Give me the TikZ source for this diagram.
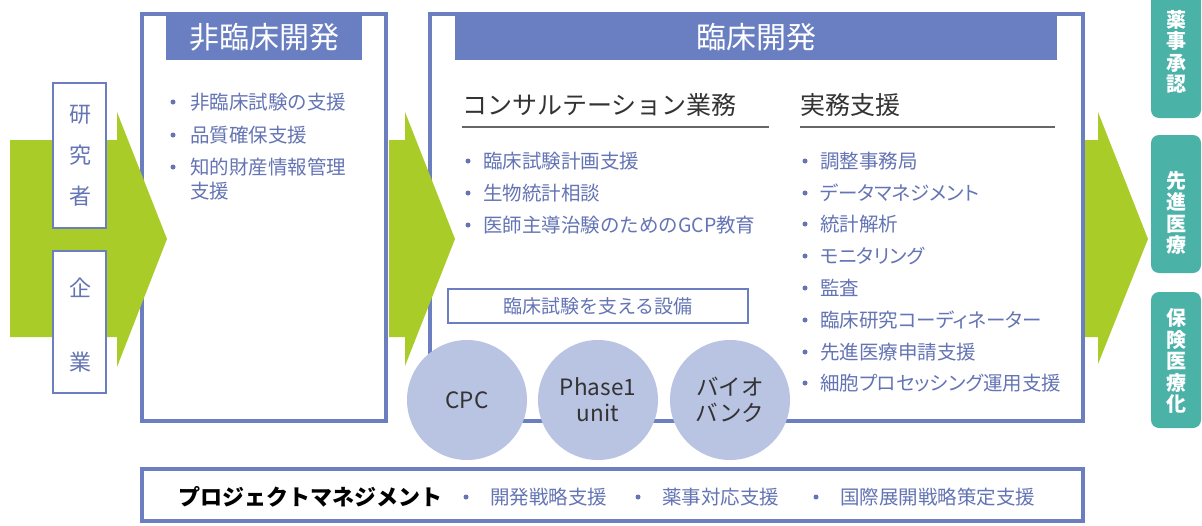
\documentclass[tikz,border=0pt]{standalone}
\usepackage{fontspec}
\setmainfont{Noto Sans CJK JP}
\newfontfamily\jpprop[RawFeature=+palt]{Noto Sans CJK JP}
\definecolor{grn}{HTML}{AACC28}
\definecolor{bbor}{HTML}{6A7EC0}
\definecolor{tbar}{HTML}{6A7FC2}
\definecolor{txtb}{HTML}{6474B4}
\definecolor{circf}{HTML}{B9C3E2}
\definecolor{tealc}{HTML}{4BB2A8}
\definecolor{dgray}{HTML}{333333}
\definecolor{ulgray}{HTML}{666666}
\tikzset{
  bigbox/.style={draw=bbor, line width=4pt, fill=white},
  titlebar/.style={fill=tbar},
  titletext/.style={text=white, font=\fontsize{30}{36}\selectfont, inner sep=0pt},
  item/.style={anchor=west, inner sep=0pt, text=txtb, font=\fontsize{19.5}{24}\selectfont},
  heading/.style={anchor=west, inner sep=0pt, text=dgray, font=\fontsize{25}{30}\selectfont},
  uline/.style={draw=ulgray, line width=1.3pt},
  smallbox/.style={draw=bbor, line width=1.5pt, fill=white},
  vtext/.style={text=txtb, align=center, inner sep=0pt},
  arrowshape/.style={fill=grn},
  facility/.style={circle, fill=circf, minimum size=120pt, inner sep=0pt, text=dgray, font=\fontsize{22.5}{26}\selectfont, align=center},
  tealbox/.style={fill=tealc, rounded corners=8pt},
  tealtext/.style={text=white, align=center, inner sep=0pt, font=\fontsize{20}{21.5}\selectfont\bfseries},
  bulletdot/.style={fill=txtb},
}
\newcommand\bitem[5]{% name, x, y, bullet offset, text
  \node[item] (#1) at (#2,#3) {#5};
  \fill[bulletdot] (#2-#4,#3) circle (2.5pt);
}
\begin{document}
\begin{tikzpicture}[x=1pt,y=-1pt]
\useasboundingbox (0,0) rectangle (1202,525);

% main boxes
\draw[bigbox] (142,14) rectangle (386,421);
\fill[titlebar] (166,12) rectangle (362,60);
\draw[bigbox] (430,14) rectangle (1083,421);
\fill[titlebar] (455,12) rectangle (1057,60);

% green arrows
\fill[arrowshape] (10,140) -- (117,140) -- (117,112) -- (167,239) -- (117,367) -- (117,337) -- (10,337) -- cycle;
\fill[arrowshape] (389,140) -- (405,140) -- (405,112) -- (455,239) -- (405,366) -- (405,337) -- (389,337) -- cycle;
\fill[arrowshape] (1085,140) -- (1098,140) -- (1098,112) -- (1148,239) -- (1098,364) -- (1098,337) -- (1085,337) -- cycle;

% researcher / company boxes
\draw[smallbox] (53,83) rectangle (106,228);
\node[vtext, font=\fontsize{22}{41}\selectfont] (res) at (80,156) {研\\究\\者};
\draw[smallbox] (53,251) rectangle (106,393);
\node[vtext, font=\fontsize{22}{74}\selectfont] (comp) at (80,325) {企\\業};

% titles
\node[titletext] (t1) at (264,37) {非臨床開発};
\node[titletext] (t2) at (756,37) {臨床開発};

% box 1 items
\bitem{n1}{190}{102}{17}{非臨床試験の支援}
\bitem{n2}{190}{135}{17}{品質確保支援}
\bitem{n3}{190}{167}{17}{知的財産情報管理}
\node[item] (n3b) at (190,191) {支援};

% headings
\node[heading] (h1) at (462,105) {コンサルテーション業務};
\draw[uline] (462,127) -- (769,127);
\node[heading] (h2) at (800,105) {実務支援};
\draw[uline] (800,127) -- (1055,127);

% consultation items
\bitem{c1}{483}{161}{15}{臨床試験計画支援}
\bitem{c2}{483}{193}{15}{生物統計相談}
\bitem{c3}{483}{225}{15}{医師主導治験のためのGCP教育}

% practical support items
\bitem{p1}{820}{161}{15}{調整事務局}
\bitem{p2}{820}{193}{15}{\jpprop データマネジメント}
\bitem{p3}{820}{224}{15}{統計解析}
\bitem{p4}{820}{256}{15}{\jpprop モニタリング}
\bitem{p5}{820}{288}{15}{監査}
\bitem{p6}{820}{320}{15}{\jpprop 臨床研究コーディネーター}
\bitem{p7}{820}{352}{15}{先進医療申請支援}
\bitem{p8}{820}{383}{15}{\jpprop 細胞プロセッシング運用支援}

% facility
\node[draw=bbor, line width=1.5pt, fill=white, minimum width=300pt, minimum height=34pt, inner sep=0pt, text=txtb, font=\fontsize{19}{22}\selectfont] (fac) at (598,306) {臨床試験を支える設備};
\node[facility] (cpc) at (467,400) {CPC};
\node[facility] (ph1) at (598,400) {Phase1\\unit};
\node[facility] (bio) at (730,400) {バイオ\\バンク};

% project management
\draw[bigbox] (142,469) rectangle (1083,521);
\node[anchor=west, inner sep=0pt, text=black, font=\fontsize{22}{26}\selectfont\bfseries] (pm) at (178,497) {プロジェクトマネジメント};
\bitem{m1}{490}{497}{24}{開発戦略支援}
\bitem{m2}{662}{497}{24}{薬事対応支援}
\bitem{m3}{840}{497}{24}{国際展開戦略策定支援}

% teal boxes
\fill[tealbox] (1151,-12) rectangle (1201,118);
\node[tealtext] (r1) at (1176,52) {薬\\事\\承\\認};
\fill[tealbox] (1151,135) rectangle (1201,273);
\node[tealtext] (r2) at (1176,213) {先\\進\\医\\療};
\fill[tealbox] (1151,292) rectangle (1201,428);
\node[tealtext] (r3) at (1176,361) {保\\険\\医\\療\\化};
\end{tikzpicture}
\end{document}
